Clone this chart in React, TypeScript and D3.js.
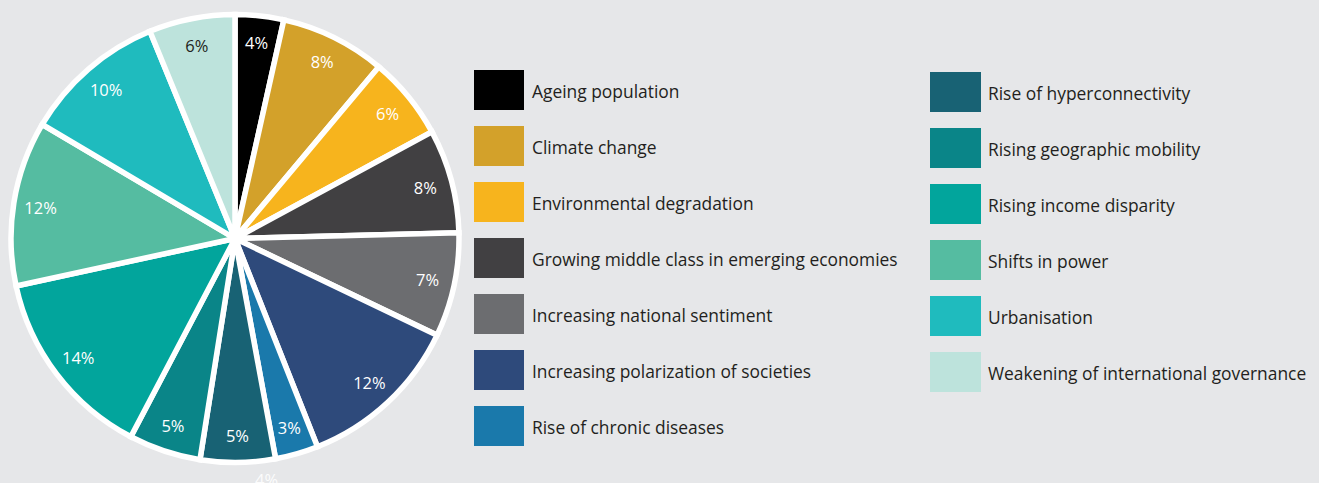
import React from "react";
import * as d3 from "d3";

const categories = [
  "Ageing population",
  "Climate change",
  "Environmental degradation",
  "Growing middle class in emerging economies",
  "Increasing national sentiment",
  "Increasing polarization of societies",
  "Rise of chronic diseases",
  "Rise of hyperconnectivity",
  "Rising geographic mobility",
  "Rising income disparity",
  "Shifts in power",
  "Urbanisation",
  "Weakening of international governance",
];
// slice shares as drawn
const values = [3.5, 7.6, 6.0, 7.5, 7.5, 11.9, 3.1, 5.4, 5.2, 13.9, 11.9, 10.3, 6.2];
// percentage labels as printed on the slices
const labels = ["4%", "8%", "6%", "8%", "7%", "12%", "3%", "5%", "5%", "14%", "12%", "10%", "6%"];
const colors = [
  "#000000", "#d3a12a", "#f7b41d", "#414042", "#6c6d70", "#2e4a7b", "#1a79ab",
  "#186274", "#0a8588", "#02a59c", "#55bca1", "#1fbbbe", "#bde3dc",
];
const labelColors = [
  "#fff", "#fff", "#fff", "#fff", "#fff", "#fff", "#fff",
  "#fff", "#fff", "#fff", "#fff", "#fff", "#231f20",
];
const strayLabel = "4%";

const W = 1319;
const H = 483;
const FONT = "'Open Sans', 'Noto Sans', sans-serif";

export default function App() {
  const cx = 235;
  const cy = 238.5;
  const R = 224;
  const data = categories.map((c, i) => ({ c, v: values[i], i }));
  const pie = d3.pie<any>().sort(null).value((d) => d.v);
  const arcs = pie(data);
  const arc = d3.arc<any>().innerRadius(0).outerRadius(R);
  const labelArc = d3.arc<any>().innerRadius(197).outerRadius(197);

  const col1 = categories.slice(0, 7);
  const col2 = categories.slice(7);
  const rowY1 = d3.scaleLinear().domain([0, 1]).range([70, 126]);
  const rowY2 = d3.scaleLinear().domain([0, 1]).range([72, 128]);

  return (
    <div style={{ position: "absolute", left: 0, top: 0 }}>
      <svg width={W} height={H} style={{ display: "block", background: "#e6e7e9" }}>
        <rect x={0} y={0} width={W} height={H} fill="#e6e7e9" />
        <g transform={`translate(${cx},${cy})`}>
          {arcs.map((a, i) => (
            <path key={i} d={arc(a) || ""} fill={colors[i]} stroke="#fff" strokeWidth={5.5} strokeLinejoin="miter" />
          ))}
          {arcs.map((a, i) => {
            const [x, y] = labelArc.centroid(a);
            return (
              <text key={i} x={x} y={y} textAnchor="middle" dominantBaseline="central"
                fontFamily={FONT} fontSize={16.5} fill={labelColors[i]}>
                {labels[i]}
              </text>
            );
          })}
          <text x={31.5} y={241} textAnchor="middle" dominantBaseline="central"
            fontFamily={FONT} fontSize={16.5} fill="#ffffff" opacity={0.9}>
            {strayLabel}
          </text>
        </g>
        <g>
          {col1.map((c, k) => {
            const i = k;
            const y = rowY1(k);
            return (
              <g key={c}>
                <rect x={474} y={y} width={50} height={40} fill={colors[i]} />
                <text x={532} y={y + 20.5} dominantBaseline="central" fontFamily={FONT}
                  fontSize={17.4} fill="#231f20">{c}</text>
              </g>
            );
          })}
          {col2.map((c, k) => {
            const i = k + 7;
            const y = rowY2(k);
            return (
              <g key={c}>
                <rect x={930} y={y} width={51} height={40} fill={colors[i]} />
                <text x={988} y={y + 20.5} dominantBaseline="central" fontFamily={FONT}
                  fontSize={17.4} fill="#231f20">{c}</text>
              </g>
            );
          })}
        </g>
      </svg>
    </div>
  );
}
